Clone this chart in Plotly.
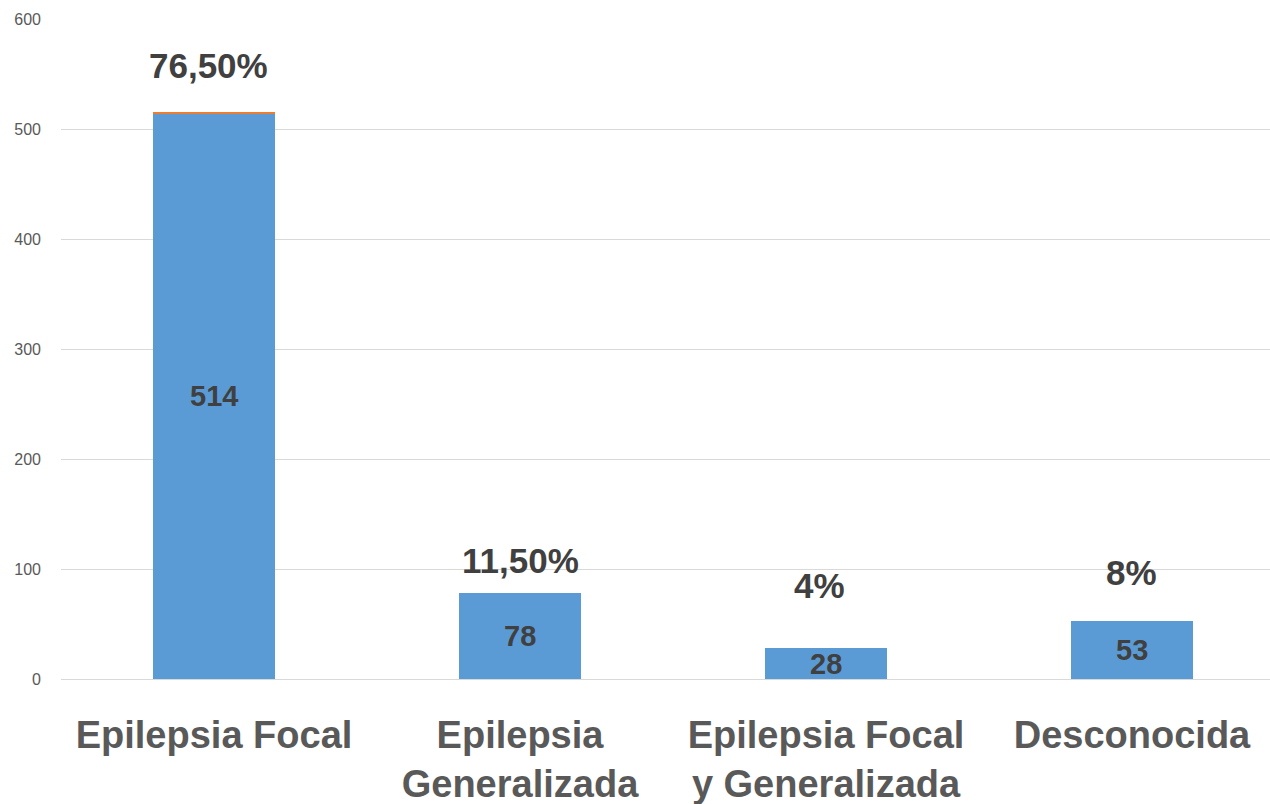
import plotly.graph_objects as go

# Epilepsy type counts and their share of the total
categories = ["Epilepsia Focal", "Epilepsia Generalizada",
              "Epilepsia Focal y Generalizada", "Desconocida"]
tick_labels = ["Epilepsia Focal", "Epilepsia<br>Generalizada",
               "Epilepsia Focal<br>y Generalizada", "Desconocida"]
counts = [514, 78, 28, 53]
top_segment = [1.8, 0, 0, 0]
pct_labels = ["76,50%", "11,50%", "4%", "8%"]
pct_label_y = [558, 108, 85, 97]
pct_label_dx = [-6, 0, -7, 0]

FONT = "Liberation Sans, Arial"
x = list(range(len(categories)))

fig = go.Figure()
fig.add_trace(go.Bar(
    x=x, y=counts, width=0.4,
    marker=dict(color="#5B9BD5", line=dict(width=0)),
    hoverinfo="skip", showlegend=False,
))
fig.add_trace(go.Bar(
    x=x, y=top_segment, width=0.4,
    marker=dict(color="#ED7D31", line=dict(width=0)),
    hoverinfo="skip", showlegend=False,
))

# count labels centred in each bar
for xi, v in zip(x, counts):
    fig.add_annotation(
        x=xi, y=v / 2, xref="x", yref="y", text=f"<b>{v}</b>",
        showarrow=False,
        font=dict(family=FONT, size=29, color="#404040"),
    )

# percentage labels above the bars
for xi, lbl, yy, dx in zip(x, pct_labels, pct_label_y, pct_label_dx):
    fig.add_annotation(
        x=xi, y=yy, xref="x", yref="y", text=f"<b>{lbl}</b>",
        showarrow=False, xshift=dx,
        font=dict(family=FONT, size=35, color="#404040"),
    )

fig.update_layout(
    barmode="stack",
    width=1270, height=804,
    margin=dict(l=61, r=0, t=19, b=125),
    paper_bgcolor="white", plot_bgcolor="white",
    xaxis=dict(
        tickmode="array", tickvals=x,
        ticktext=[f"<b>{t}</b>" for t in tick_labels],
        range=[-0.5, 3.451], automargin=False,
        tickfont=dict(family=FONT, size=38, color="#595959"),
        showgrid=False, zeroline=False, showline=False, ticks="",
        ticklabelstandoff=30,
    ),
    yaxis=dict(
        range=[0, 600], dtick=100, automargin=False,
        tickfont=dict(family=FONT, size=16, color="#595959"),
        showgrid=True, gridcolor="#D9D9D9", gridwidth=1,
        zeroline=True, zerolinecolor="#D9D9D9", zerolinewidth=1,
        showline=False, ticks="", ticklabelstandoff=19,
    ),
    font=dict(family=FONT),
)

fig.write_html("out.html")
